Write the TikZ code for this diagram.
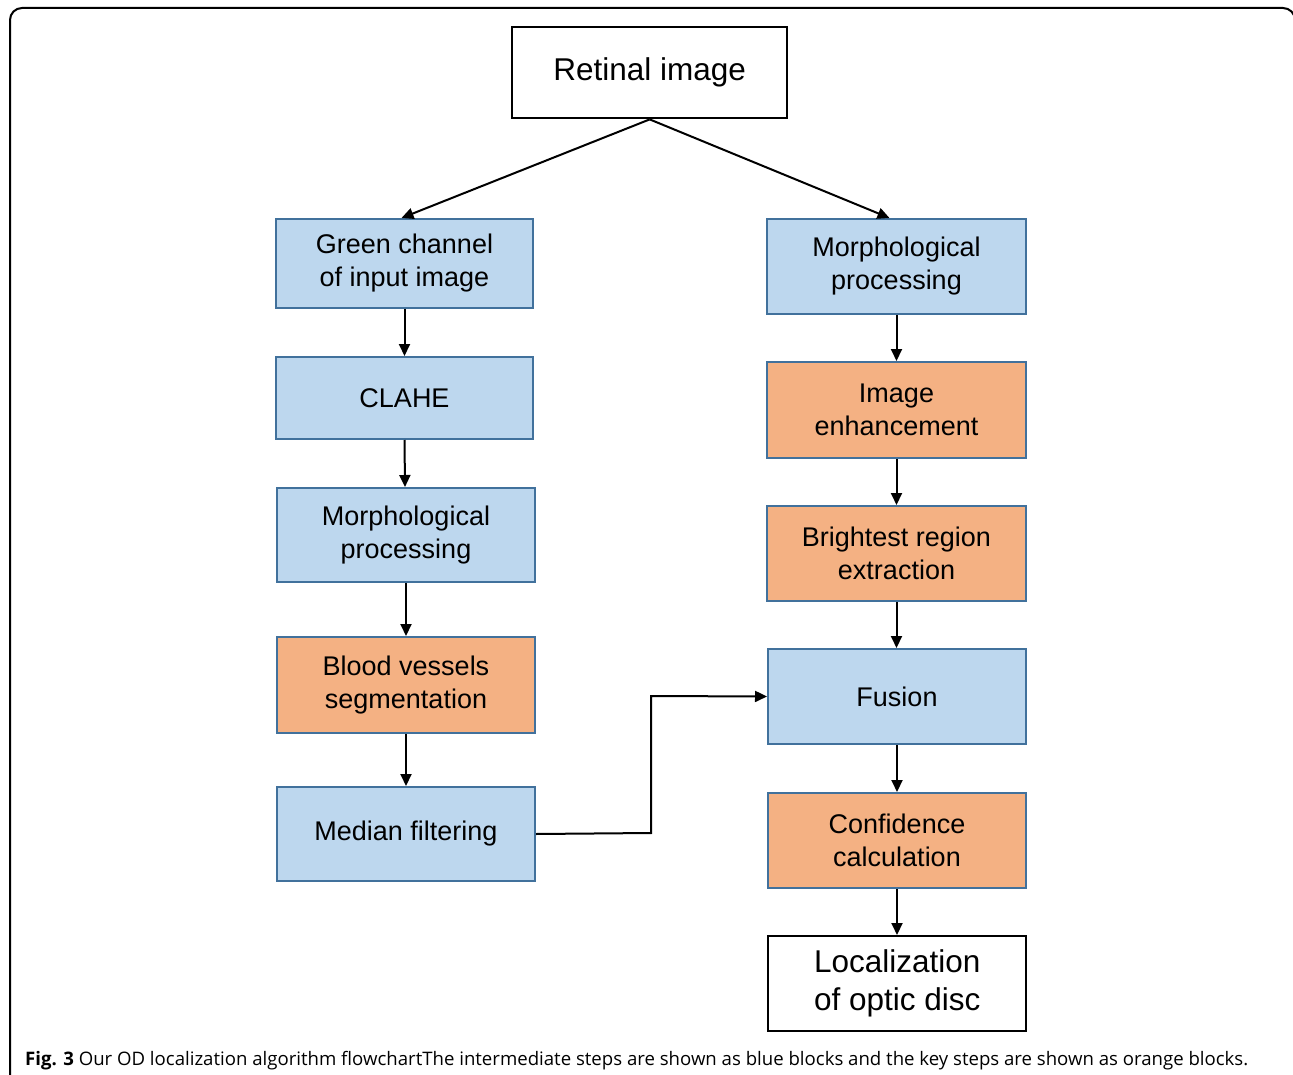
\documentclass[tikz,border=0pt]{standalone}
\usepackage{fontspec}
\setmainfont{Liberation Sans}
\newfontfamily\capfont{Open Sans}
\usetikzlibrary{arrows.meta,positioning,calc}
\definecolor{stepblue}{RGB}{189,215,238}
\definecolor{keyorange}{RGB}{244,177,131}
\definecolor{edgeblue}{RGB}{65,113,156}
\tikzset{
  box/.style={draw, line width=2pt, align=center, inner sep=0pt,
    font=\fontsize{27}{33}\selectfont, anchor=north west},
  bluebox/.style={box, fill=stepblue, draw=edgeblue},
  orangebox/.style={box, fill=keyorange, draw=edgeblue},
  whitebox/.style={box, fill=white, draw=black, line width=2.4pt,
    font=\fontsize{31.5}{38}\selectfont},
  flow/.style={draw=black, line width=2pt,
    -{Triangle[length=12pt,width=11pt]}},
}
\begin{document}
\begin{tikzpicture}[x=1pt,y=-1pt]
\useasboundingbox (0,0) rectangle (1293,1075);
\clip (0,0) rectangle (1293,1075);
% outer frame, open at the bottom
\draw[line width=2pt, rounded corners=12pt] (10,1100) -- (10,8) -- (1295,8) -- (1295,1100);

% left column
\node[whitebox, minimum width=275pt, minimum height=91pt] (ret) at (511,26) {Retinal image};
\node[bluebox, minimum width=257pt, minimum height=89pt] (green) at (275,218) {Green channel\\of input image};
\node[bluebox, minimum width=257pt, minimum height=82pt] (clahe) at (275,356) {CLAHE};
\node[bluebox, minimum width=258pt, minimum height=94pt] (morphl) at (276,487) {Morphological\\processing};
\node[orangebox, minimum width=258pt, minimum height=96pt] (blood) at (276,636) {Blood vessels\\segmentation};
\node[bluebox, minimum width=258pt, minimum height=94pt] (median) at (276,786) {Median filtering};

% right column
\node[bluebox, minimum width=259pt, minimum height=95pt] (morphr) at (766,218) {Morphological\\processing};
\node[orangebox, minimum width=259pt, minimum height=96pt] (enh) at (766,361) {Image\\enhancement};
\node[orangebox, minimum width=259pt, minimum height=95pt] (bright) at (766,505) {Brightest region\\extraction};
\node[bluebox, minimum width=258pt, minimum height=95pt] (fusion) at (767,648) {Fusion};
\node[orangebox, minimum width=258pt, minimum height=95pt] (conf) at (767,792) {Confidence\\calculation};
\node[whitebox, minimum width=258pt, minimum height=95pt] (loc) at (767,935) {Localization\\of optic disc};

% connectors
\draw[flow] (ret.south) -- ($(green.north)+(-3,0)$);
\draw[flow] (ret.south) -- ($(morphr.north)+(-7,0)$);
\draw[flow] (green.south) -- (green.south |- clahe.north);
\draw[flow] (clahe.south) -- ($(morphl.north)+(-1,0)$);
\draw[flow] (morphl.south) -- (morphl.south |- blood.north);
\draw[flow] (blood.south) -- (blood.south |- median.north);
\draw[flow] (morphr.south) -- (morphr.south |- enh.north);
\draw[flow] (enh.south) -- (enh.south |- bright.north);
\draw[flow] (bright.south) -- (bright.south |- fusion.north);
\draw[flow] (fusion.south) -- (fusion.south |- conf.north);
\draw[flow] (conf.south) -- (conf.south |- loc.north);
\draw[flow] (median.east) -- (651,833) -- (651,696) -- (fusion.west);

% caption
\node[anchor=base west, inner sep=0pt, font=\capfont\fontsize{18.6}{22}\selectfont] (cap) at (25,1065)
  {\textbf{Fig. 3} Our OD localization algorithm flowchartThe intermediate steps are shown as blue blocks and the key steps are shown as orange blocks.};
\end{tikzpicture}
\end{document}
